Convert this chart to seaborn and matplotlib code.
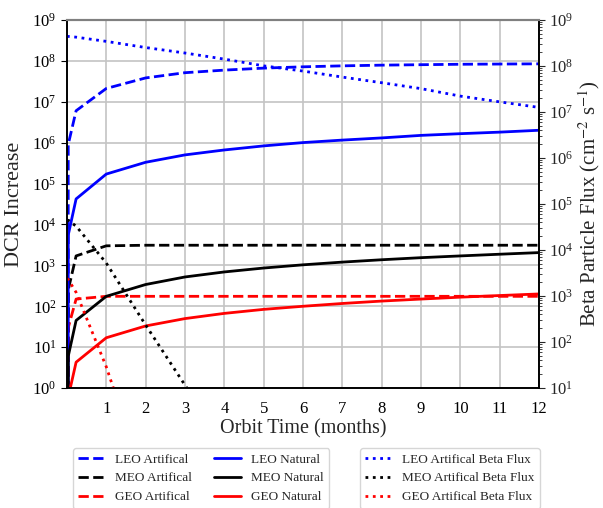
import matplotlib
matplotlib.use("Agg")
import matplotlib.pyplot as plt
import seaborn as sns
from matplotlib.ticker import NullLocator, LogLocator

# orbit time in months (0, 1 day, 7 days, then monthly)
months = [0, 0.033, 0.233, 1, 2, 3, 4, 5, 6, 7, 8, 9, 10, 11, 12]

# DCR increase (left axis)
leo_art = [0, 9e5, 6e6, 2.1e7, 3.8e7, 5.1e7, 5.9e7, 6.6e7, 7.1e7, 7.5e7, 7.8e7, 8.0e7, 8.2e7, 8.3e7, 8.4e7]
meo_art = [0, 250, 1700, 3000, 3100, 3100, 3100, 3100, 3100, 3100, 3100, 3100, 3100, 3100, 3100]
geo_art = [0, 30, 150, 175, 175, 175, 175, 175, 175, 175, 175, 175, 175, 175, 175]
leo_nat = [0, 5.5e3, 4.2e4, 1.7e5, 3.3e5, 5.0e5, 6.6e5, 8.3e5, 1.0e6, 1.15e6, 1.3e6, 1.5e6, 1.65e6, 1.8e6, 2.0e6]
meo_nat = [0, 6, 45, 175, 340, 520, 690, 860, 1030, 1200, 1370, 1540, 1700, 1870, 2050]
geo_nat = [0, 0.6, 4.3, 17, 33, 50, 67, 84, 100, 117, 134, 150, 167, 183, 200]

# beta particle flux (right axis)
leo_flux = [4.4e8, 4.35e8, 4.2e8, 3.4e8, 2.5e8, 1.9e8, 1.4e8, 1.0e8, 7.7e7, 5.7e7, 4.3e7, 3.2e7, 2.2e7, 1.65e7, 1.25e7]
meo_flux = [4.5e4, 4.4e4, 3.3e4, 5.2e3, 235, 11.6, 0.6, 0.03, 1.5e-3, 8e-5, 4e-6, 2e-7, 1e-8, 5e-10, 2.5e-11]
geo_flux = [2.4e3, 2.3e3, 1.2e3, 29, 0.08, 2e-4, 5e-7, 1e-9, 3e-12, 7e-15, 2e-17, 4e-20, 1e-22, 2e-25, 5e-28]

art_labels = ["LEO Artifical", "MEO Artifical", "GEO Artifical"]
nat_labels = ["LEO Natural", "MEO Natural", "GEO Natural"]
flux_labels = ["LEO Artifical Beta Flux", "MEO Artifical Beta Flux", "GEO Artifical Beta Flux"]
colors = ["blue", "black", "red"]

sns.set_style("white")
plt.rcParams["font.family"] = ["Liberation Serif", "DejaVu Serif"]
plt.rcParams["mathtext.fontset"] = "stix"

fig, ax = plt.subplots(figsize=(6.03, 5.08), dpi=100)
fig.subplots_adjust(left=0.111, right=0.894, top=0.961, bottom=0.236)
ax2 = ax.twinx()

for vals, lab, c in zip([leo_art, meo_art, geo_art], art_labels, colors):
    sns.lineplot(x=months, y=vals, ax=ax, color=c, linestyle="--", linewidth=2, label=lab)
for vals, lab, c in zip([leo_nat, meo_nat, geo_nat], nat_labels, colors):
    sns.lineplot(x=months, y=vals, ax=ax, color=c, linestyle="-", linewidth=2, label=lab)
for vals, lab, c in zip([leo_flux, meo_flux, geo_flux], flux_labels, colors):
    sns.lineplot(x=months, y=vals, ax=ax2, color=c, linestyle=":", linewidth=2, label=lab)

h1, l1 = ax.get_legend_handles_labels()
h2, l2 = ax2.get_legend_handles_labels()
ax.get_legend().remove()
ax2.get_legend().remove()

ax.set_yscale("log")
ax2.set_yscale("log")
ax.set_ylim(1, 1e9)
ax2.set_ylim(10, 1e9)
ax.set_xlim(0, 12)
ax.set_xticks(range(1, 13))
ax.set_yticks([10.0 ** i for i in range(10)])
ax2.set_yticks([10.0 ** i for i in range(1, 10)])
ax.yaxis.set_minor_locator(NullLocator())
ax2.yaxis.set_minor_locator(LogLocator(base=10, subs=range(2, 10), numticks=20))

ax.grid(True, color="#c4c4c4", linewidth=1.2)
ax.tick_params(axis="both", labelsize=12, direction="out", length=4, colors="black")
ax.tick_params(axis="x", length=0, pad=9)
ax2.tick_params(axis="y", which="major", labelsize=12, direction="out", length=4)
ax2.tick_params(axis="y", which="minor", direction="out", length=2)

ax.set_xlabel("Orbit Time (months)", fontsize=14.5, labelpad=2)
ax.set_ylabel("DCR Increase", fontsize=16, labelpad=6)
ax2.set_ylabel("Beta Particle Flux (cm$^{-2}$ s$^{-1}$)", fontsize=15, labelpad=2)

for a in (ax, ax2):
    for side in ("left", "bottom", "right"):
        a.spines[side].set_color("black")
        a.spines[side].set_linewidth(1.2)
    a.spines["top"].set_color("#808080")
    a.spines["top"].set_linewidth(1.5)

fig.legend(h1, l1, ncol=2, loc="upper left", bbox_to_anchor=(0.121, 0.118),
           fontsize=9.5, handlelength=2.0, columnspacing=1.7, frameon=True, borderaxespad=0)
fig.legend(h2, l2, loc="upper right", bbox_to_anchor=(0.8955, 0.118),
           fontsize=9.5, handlelength=2.0, frameon=True, borderaxespad=0)

plt.savefig("out.png", dpi=100)
plt.close()
